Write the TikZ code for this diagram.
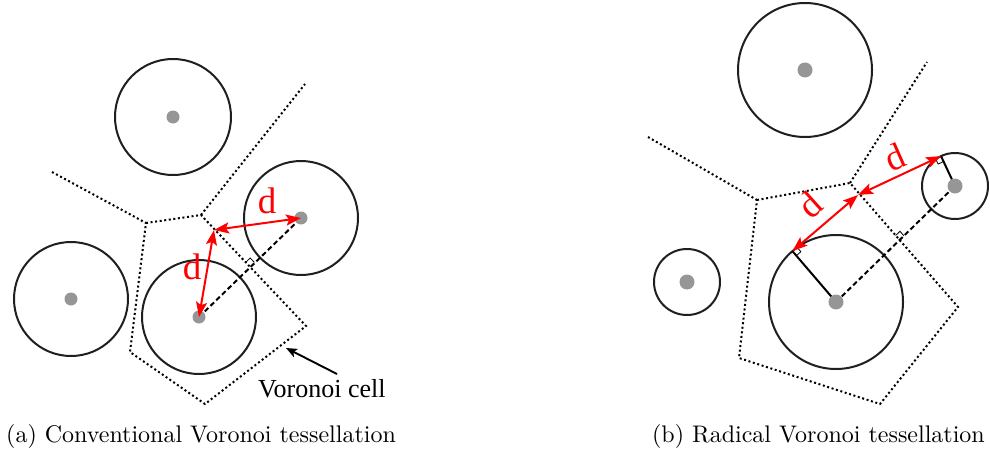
\documentclass[tikz,border=0pt]{standalone}
\usepackage{fontspec}
\newfontfamily\tms{Liberation Serif}
\newfontfamily\capfont{lmroman10-regular.otf}
\usetikzlibrary{arrows.meta,calc}
\definecolor{dotgray}{RGB}{150,150,150}
\begin{document}
\begin{tikzpicture}[x=1pt,y=-1pt,
  vcirc/.style={draw=black!88, line width=2.0},
  sitedot/.style={fill=dotgray, draw=none},
  vedge/.style={line width=2.0, dash pattern=on 2pt off 2.6pt},
  dashln/.style={line width=2.0, dash pattern=on 5pt off 3pt},
  solidln/.style={line width=2.0},
  redarr/.style={red, line width=2.0, {Stealth[length=15pt,width=11pt,inset=3pt]}-{Stealth[length=15pt,width=11pt,inset=3pt]}},
  rmark/.style={line width=0.8},
  dlabel/.style={red, font=\tms\fontsize{37}{37}\selectfont, inner sep=0pt},
  capstyle/.style={font=\capfont\fontsize{24}{28}\selectfont, inner sep=0pt}
]
\useasboundingbox (0,0) rectangle (990,452);

% ---------------- left panel ----------------
\coordinate (A1) at (173,117);
\coordinate (A2) at (71,299);
\coordinate (A3) at (199,317);
\coordinate (A4) at (301,218);
\draw[vcirc] (A1) circle[radius=58];
\draw[vcirc] (A2) circle[radius=57];
\draw[vcirc] (A3) circle[radius=57];
\draw[vcirc] (A4) circle[radius=57];

\coordinate (L0) at (52,172);
\coordinate (L1) at (146,223);
\coordinate (L2) at (201,215);
\coordinate (L3) at (305,84);
\coordinate (L4) at (306,326);
\coordinate (L5) at (205,404);
\coordinate (L6) at (130,352);
\draw[vedge] (L0) -- (L1);
\draw[vedge] (L2) -- (L3);
\draw[vedge] (L1) -- (L2) -- (L4) -- (L5) -- (L6) -- cycle;

\draw[dashln] (A3) -- (A4);
\coordinate (X) at (250,266.5);
\coordinate (Xu) at ($(X)!6pt!(A4)$);
\coordinate (Xv) at ($(X)!6pt!(L2)$);
\draw[rmark] (Xu) -- ($(Xu)+(Xv)-(X)$) -- (Xv);

\foreach \c in {A1,A2,A3,A4} \fill[sitedot] (\c) circle[radius=6.5];

\coordinate (P) at (214,230);
\draw[redarr] (P) -- (A4);
\draw[redarr] (P) -- (A3);
\node[dlabel] (dl1) at (267,201) {d};
\node[dlabel] (dl2) at (192,267) {d};

\node[font=\tms\fontsize{26}{28}\selectfont, inner sep=0pt, anchor=base west] (vc) at (258,397) {Voronoi cell};
\coordinate (vct) at (337,374);
\coordinate (vch) at (286,348);
\draw[line width=1.9, -{Stealth[length=11pt,width=9pt,inset=2.5pt]}] (vct) -- (vch);

% ---------------- right panel ----------------
\coordinate (B1) at (805,70);
\coordinate (B2) at (687,282);
\coordinate (B3) at (836,302);
\coordinate (B4) at (955,186);
\draw[vcirc] (B1) circle[radius=67];
\draw[vcirc] (B2) circle[radius=33];
\draw[vcirc] (B3) circle[radius=67];
\draw[vcirc] (B4) circle[radius=33];

\coordinate (R0) at (648,137);
\coordinate (R1) at (757,200);
\coordinate (R2) at (850,183);
\coordinate (R3) at (927,62);
\coordinate (R4) at (958,307);
\coordinate (R5) at (880,404);
\coordinate (R6) at (739,358);
\draw[vedge] (R0) -- (R1);
\draw[vedge] (R2) -- (R3);
\draw[vedge] (R1) -- (R2) -- (R4) -- (R5) -- (R6) -- cycle;

\draw[dashln] (B3) -- (B4);
\coordinate (Y) at (899.6,240);
\coordinate (Yu) at ($(Y)!6pt!(B4)$);
\coordinate (Yv) at ($(Y)!6pt!(R2)$);
\draw[rmark] (Yu) -- ($(Yu)+(Yv)-(Y)$) -- (Yv);

\coordinate (M) at (858,195);
\coordinate (T1) at (792.4,251.1);
\coordinate (T2) at (941,156.1);
\draw[solidln] (B3) -- (T1);
\draw[solidln] (B4) -- (T2);
\coordinate (T1u) at ($(T1)!6pt!(B3)$);
\coordinate (T1v) at ($(T1)!6pt!(M)$);
\draw[rmark] (T1u) -- ($(T1u)+(T1v)-(T1)$) -- (T1v);
\coordinate (T2u) at ($(T2)!6pt!(B4)$);
\coordinate (T2v) at ($(T2)!6pt!(M)$);
\draw[rmark] (T2u) -- ($(T2u)+(T2v)-(T2)$) -- (T2v);

\foreach \c in {B1,B2,B3,B4} \fill[sitedot] (\c) circle[radius=7.5];

\draw[redarr] (M) -- (T1);
\draw[redarr] (M) -- (T2);
\node[dlabel, rotate=42] (dr1) at (810,205) {d};
\node[dlabel, rotate=24] (dr2) at (895,157) {d};

% ---------------- captions ----------------
\node[capstyle, anchor=base west] (capa) at (6,442) {(a) Conventional Voronoi tessellation};
\node[capstyle, anchor=base east] (capb) at (985,442) {(b) Radical Voronoi tessellation};
\end{tikzpicture}
\end{document}
